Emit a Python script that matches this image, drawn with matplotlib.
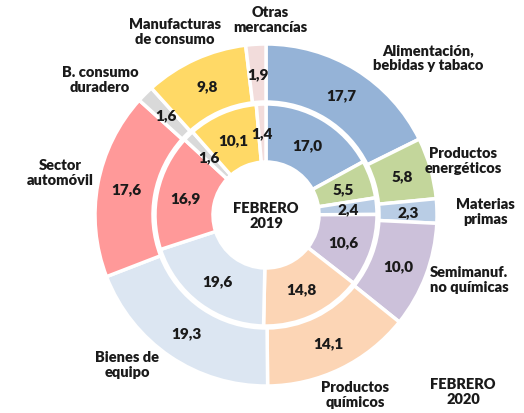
import numpy as np
import matplotlib.pyplot as plt

plt.rcParams['font.family'] = ['Lato', 'DejaVu Sans']
plt.rcParams['font.weight'] = 'bold'

# Data (percent shares), clockwise from the top
categories = ['Alimentación,\nbebidas y tabaco', 'Productos\nenergéticos', 'Materias\nprimas',
              'Semimanuf.\nno químicas', 'Productos\nquímicos', 'Bienes de\nequipo',
              'Sector\nautomóvil', 'B. consumo\nduradero', 'Manufacturas\nde consumo',
              'Otras\nmercancías']
feb2020 = [17.7, 5.8, 2.3, 10.0, 14.1, 19.3, 17.6, 1.6, 9.8, 1.9]
feb2019 = [17.0, 5.5, 2.4, 10.6, 14.8, 19.6, 16.9, 1.6, 10.1, 1.4]

colors = ['#95B3D7', '#C3D69B', '#B9CDE5', '#CCC1DA', '#FCD5B5',
          '#DCE6F2', '#FF9999', '#D9D9D9', '#FFD966', '#F2DCDB']

W, H = 524, 414
fig = plt.figure(figsize=(W / 100, H / 100), dpi=100)
ax = fig.add_axes([0, 0, 1, 1])

cx, cy = 266, H - 216
r_out, r_in, width = 171, 111, 58

outer, _ = ax.pie(feb2020, radius=r_out, center=(cx, cy), startangle=90, counterclock=False,
                  colors=colors, wedgeprops=dict(width=width, edgecolor='white', linewidth=2.5),
                  frame=True)
inner, _ = ax.pie(feb2019, radius=r_in, center=(cx, cy), startangle=90, counterclock=False,
                  colors=colors, wedgeprops=dict(width=width, edgecolor='white', linewidth=2.5),
                  frame=True)
ax.set_xlim(0, W)
ax.set_ylim(0, H)
ax.set_aspect('equal')
ax.axis('off')


def fmt(v):
    return f'{v:.1f}'.replace('.', ',')


for wedges, vals, rr in [(outer, feb2020, r_out - width / 2), (inner, feb2019, r_in - width / 2)]:
    for w, v in zip(wedges, vals):
        ang = np.deg2rad((w.theta1 + w.theta2) / 2)
        ax.text(cx + rr * np.cos(ang), cy + rr * np.sin(ang), fmt(v),
                ha='center', va='center', fontsize=11, fontweight='heavy', color='#1a1a1a')

# category labels
label_pos = [(428, 58), (463, 161), (485, 212), (469, 280), (355, 395),
             (127, 365), (60, 173), (100, 80), (175, 32), (270, 20)]
for name, (x, y) in zip(categories, label_pos):
    ax.text(x, H - y, name, ha='center', va='center', fontsize=10.5,
            fontweight='heavy', color='#1a1a1a', linespacing=1.2)

ax.text(cx, cy, 'FEBRERO\n2019', ha='center', va='center', fontsize=10.5,
        fontweight='heavy', color='#1a1a1a', linespacing=1.2)
ax.text(463, H - 392, 'FEBRERO\n2020', ha='center', va='center', fontsize=10.5,
        fontweight='heavy', color='#1a1a1a', linespacing=1.2)

fig.savefig('out.png', dpi=100)
